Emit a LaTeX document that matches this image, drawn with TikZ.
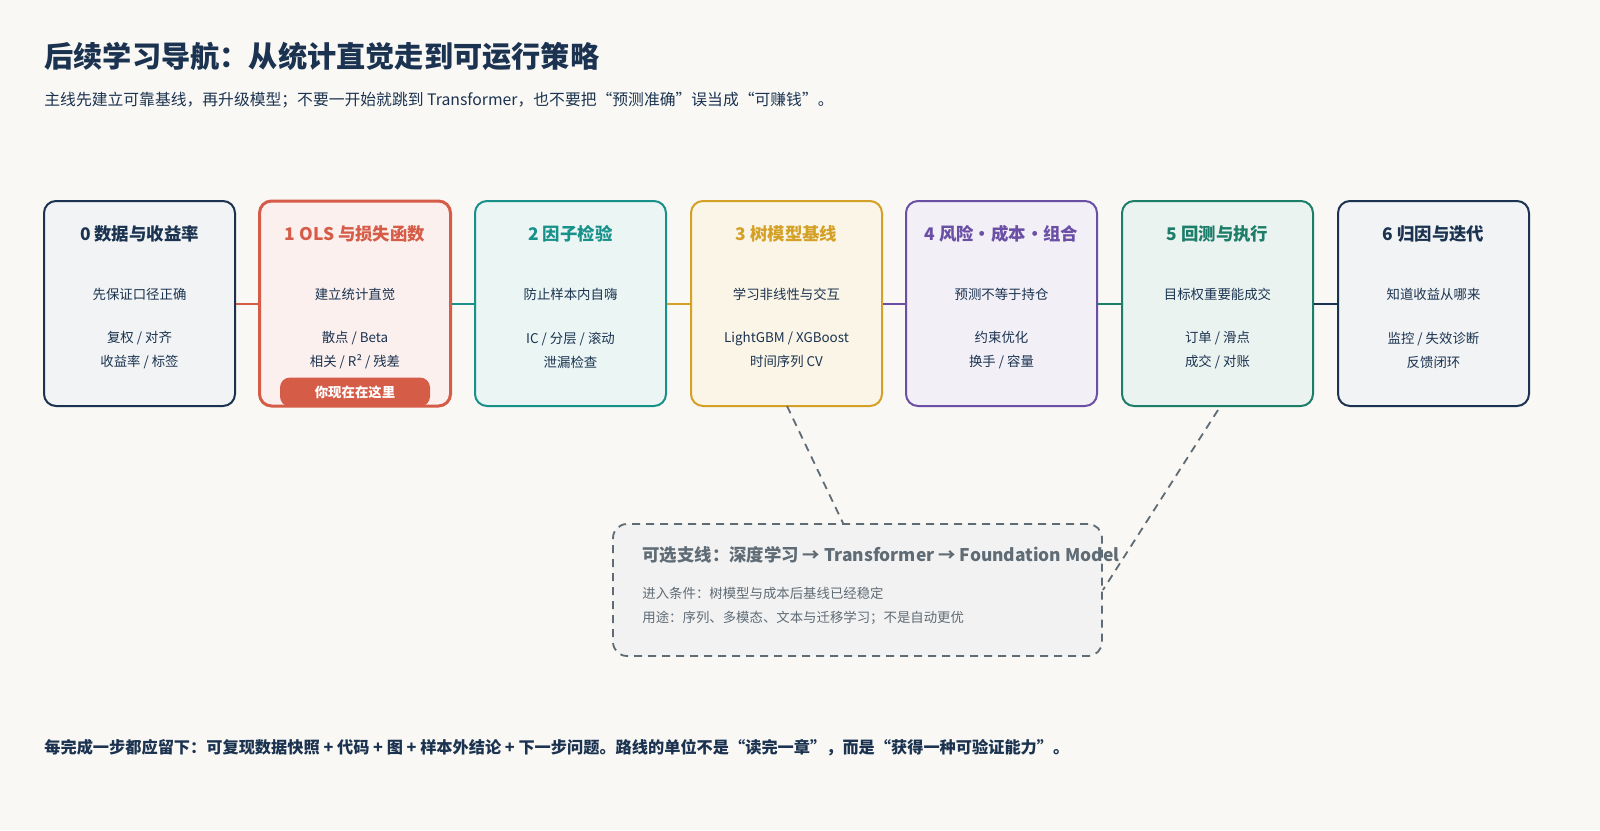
\documentclass[tikz,border=0pt]{standalone}
\usepackage{fontspec}
\setmainfont{Noto Sans CJK SC}
\usetikzlibrary{positioning}
\definecolor{bgpaper}{HTML}{F9F8F4}
\definecolor{inknavy}{HTML}{1B3350}
\definecolor{inkred}{HTML}{D55C47}
\definecolor{inkteal}{HTML}{17918A}
\definecolor{inkgold}{HTML}{D4A126}
\definecolor{inkpurple}{HTML}{6B4FA5}
\definecolor{inkgreen}{HTML}{1C7D68}
\definecolor{inkgray}{HTML}{5F6B75}

\begin{document}
\begin{tikzpicture}[
        x=0.5pt, y=-0.5pt,
        stage/.style={draw=#1, line width=1pt, rounded corners=6pt,
                minimum width=95.5pt, minimum height=102.5pt},
        head/.style={font={\fontsize{8.7pt}{10pt}\selectfont\bfseries}, text=#1},
        body/.style={font={\fontsize{6.7pt}{8pt}\selectfont}, text=inknavy,
                align=center},
        link/.style={draw=#1, line width=1pt},
        branch/.style={draw=inkgray, line width=0.9pt, dash pattern=on 4pt off 3pt}
    ]

    %page
    \fill[bgpaper] (0,0) rectangle (1600,830);

    \node[anchor=west, inner sep=0pt, text=inknavy, font={\fontsize{14.6pt}{16pt}\selectfont\bfseries}]
        (title) at (44,56) {后续学习导航：从统计直觉走到可运行策略};
    \node[anchor=west, inner sep=0pt, text=inknavy, font={\fontsize{7.9pt}{9pt}\selectfont}]
        (subtitle) at (44,100) {主线先建立可靠基线，再升级模型；不要一开始就跳到 Transformer，也不要把“预测准确”误当成“可赚钱”。};

    %stages
    \node[stage=inknavy,  fill=inknavy!6]  (s0) at (139.5,303.5) {};
    \node[stage=inkred,   fill=inkred!9, line width=1.5pt] (s1) at (355,303.5) {};
    \node[stage=inkteal,  fill=inkteal!9]  (s2) at (570.5,303.5) {};
    \node[stage=inkgold,  fill=inkgold!11] (s3) at (786.5,303.5) {};
    \node[stage=inkpurple,fill=inkpurple!9](s4) at (1001.5,303.5) {};
    \node[stage=inkgreen, fill=inkgreen!9] (s5) at (1217.5,303.5) {};
    \node[stage=inknavy,  fill=inknavy!6]  (s6) at (1433.5,303.5) {};

    %connectors
    \draw[link=inkred]    (s0.east) -- (s1.west);
    \draw[link=inkteal]   (s1.east) -- (s2.west);
    \draw[link=inkgold]   (s2.east) -- (s3.west);
    \draw[link=inkpurple] (s3.east) -- (s4.west);
    \draw[link=inkgreen]  (s4.east) -- (s5.west);
    \draw[link=inknavy]   (s5.east) -- (s6.west);

    %stage texts
    \node[head=inknavy]   (h0) at (139.5,234) {0 数据与收益率};
    \node[head=inkred]    (h1) at (355,234)   {1 OLS 与损失函数};
    \node[head=inkteal]   (h2) at (570.5,234) {2 因子检验};
    \node[head=inkgold]   (h3) at (786.5,234) {3 树模型基线};
    \node[head=inkpurple] (h4) at (1001.5,234){4 风险·成本·组合};
    \node[head=inkgreen]  (h5) at (1217.5,234){5 回测与执行};
    \node[head=inknavy]   (h6) at (1433.5,234){6 归因与迭代};

    \node[body] (a0) at (139.5,294) {先保证口径正确};
    \node[body] (a1) at (355,294)   {建立统计直觉};
    \node[body] (a2) at (570.5,294) {防止样本内自嗨};
    \node[body] (a3) at (786.5,294) {学习非线性与交互};
    \node[body] (a4) at (1001.5,294){预测不等于持仓};
    \node[body] (a5) at (1217.5,294){目标权重要能成交};
    \node[body] (a6) at (1433.5,294){知道收益从哪来};

    \node[body] (b0) at (139.5,350) {复权 / 对齐\\[4pt]收益率 / 标签};
    \node[body] (b1) at (355,350)   {散点 / Beta\\[4pt]相关 / R² / 残差};
    \node[body] (b2) at (570.5,350) {IC / 分层 / 滚动\\[4pt]泄漏检查};
    \node[body] (b3) at (786.5,350) {LightGBM / XGBoost\\[4pt]时间序列 CV};
    \node[body] (b4) at (1001.5,350){约束优化\\[4pt]换手 / 容量};
    \node[body] (b5) at (1217.5,350){订单 / 滑点\\[4pt]成交 / 对账};
    \node[body] (b6) at (1433.5,350){监控 / 失效诊断\\[4pt]反馈闭环};

    \node[fill=inkred, text=white, rounded corners=5pt, minimum width=75pt,
          minimum height=14.5pt, font={\fontsize{6.7pt}{8pt}\selectfont\bfseries}]
        (here) at (355,392) {你现在在这里};

    %optional branch
    \node[branch, fill=gray!10, rounded corners=7pt, minimum width=244.5pt,
          minimum height=66pt] (opt) at (857.5,590) {};
    \node[anchor=west, inner sep=0pt, text=inkgray, font={\fontsize{8.7pt}{10pt}\selectfont\bfseries}]
        (optt) at (642,555) {可选支线：深度学习 → Transformer → Foundation Model};
    \node[anchor=west, inner sep=0pt, text=inkgray, font={\fontsize{6.7pt}{8pt}\selectfont}, align=left]
        (optb) at (642,606) {进入条件：树模型与成本后基线已经稳定\\[4pt]用途：序列、多模态、文本与迁移学习；不是自动更优};
    \coordinate (tap3) at (787,406);
    \coordinate (tap5) at (1218,410);
    \draw[branch] (tap3) -- (opt.north -| 843,0);
    \draw[branch] (tap5) -- (opt.east);

    %footer
    \node[anchor=west, inner sep=0pt, text=inknavy, font={\fontsize{8.1pt}{9pt}\selectfont\bfseries}]
        (foot) at (44,748) {每完成一步都应留下：可复现数据快照 + 代码 + 图 + 样本外结论 + 下一步问题。路线的单位不是“读完一章”，而是“获得一种可验证能力”。};
\end{tikzpicture}
\end{document}
